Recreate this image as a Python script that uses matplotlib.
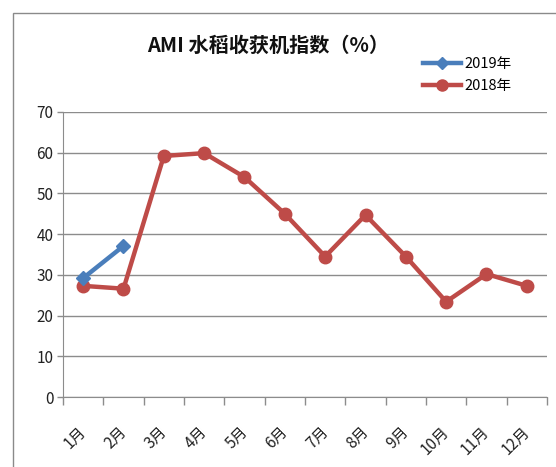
import matplotlib
matplotlib.use("Agg")
import matplotlib.pyplot as plt
from matplotlib.patches import Rectangle
from matplotlib.lines import Line2D
import matplotlib.transforms as mtransforms

plt.rcParams['font.family'] = ['Noto Sans CJK SC', 'DejaVu Sans']

months = ["1月", "2月", "3月", "4月", "5月", "6月",
          "7月", "8月", "9月", "10月", "11月", "12月"]
vals_2018 = [27.3, 26.6, 59.2, 59.9, 54.0, 45.0, 34.5, 44.7, 34.5, 23.4, 30.2, 27.3]
vals_2019 = [29.2, 37.1]
yticks = [0, 10, 20, 30, 40, 50, 60, 70]

blue = '#4a7ebb'
red = '#be4b48'
grid_c = '#8c8c8c'

fig = plt.figure(figsize=(5.56, 4.67), dpi=100)
# chart frame (only top and left edges visible in the crop)
fig.patches.append(Rectangle((13 / 556, -0.1), 1.2, 1 - 13 / 467 + 0.1,
                             transform=fig.transFigure, fill=False,
                             edgecolor='#8a8a8a', linewidth=1))

ax = fig.add_axes([63 / 556, 1 - 397 / 467, (547 - 63) / 556, (397 - 112) / 467])

x = list(range(len(months)))
ax.plot(x, vals_2018, color=red, linewidth=3.2, marker='o', markersize=9,
        label='2018年', zorder=3)
ax.plot(x[:len(vals_2019)], vals_2019, color=blue, linewidth=3.2, marker='D',
        markersize=7, label='2019年', zorder=4)

ax.set_xlim(-0.5, len(months) - 0.5)
ax.set_ylim(0, 70)
ax.set_yticks(yticks)
ax.set_yticklabels([str(v) for v in yticks], fontsize=11, color='#222222')
ax.yaxis.grid(True, color=grid_c, linewidth=1)
ax.set_axisbelow(True)

ax.set_xticks([i - 0.5 for i in range(len(months) + 1)], minor=False)
ax.set_xticklabels([])
ax.set_xticks(x, minor=True)
ax.set_xticklabels(months, minor=True, rotation=45, ha='right', va='top',
                   rotation_mode='anchor', fontsize=11, color='#222222')
ax.tick_params(axis='x', which='major', length=6, color=grid_c, width=1)
ax.tick_params(axis='x', which='minor', length=0, pad=19)
ax.tick_params(axis='y', length=4, color=grid_c, width=1, pad=3)
shift = mtransforms.ScaledTranslation(-4 / 72, 0, fig.dpi_scale_trans)
for lbl in ax.get_xticklabels(minor=True):
    lbl.set_transform(lbl.get_transform() + shift)

for s in ['top', 'right']:
    ax.spines[s].set_visible(False)
ax.spines['left'].set_color(grid_c)
ax.spines['bottom'].set_color(grid_c)

fig.text(268 / 556, 1 - 45 / 467, 'AMI 水稻收获机指数（%）', ha='center', va='center',
         fontsize=14.5, fontweight='bold', color='#111111')

handles = [Line2D([], [], color=blue, linewidth=3.2, marker='D', markersize=6),
           Line2D([], [], color=red, linewidth=3.2, marker='o', markersize=8)]
fig.legend(handles, ['2019年', '2018年'], loc='center left',
           bbox_to_anchor=(410 / 556, 1 - 75 / 467), frameon=False,
           fontsize=10.5, handlelength=2.6, handletextpad=0.2, labelspacing=0.5)

fig.savefig('out.png', dpi=100)
